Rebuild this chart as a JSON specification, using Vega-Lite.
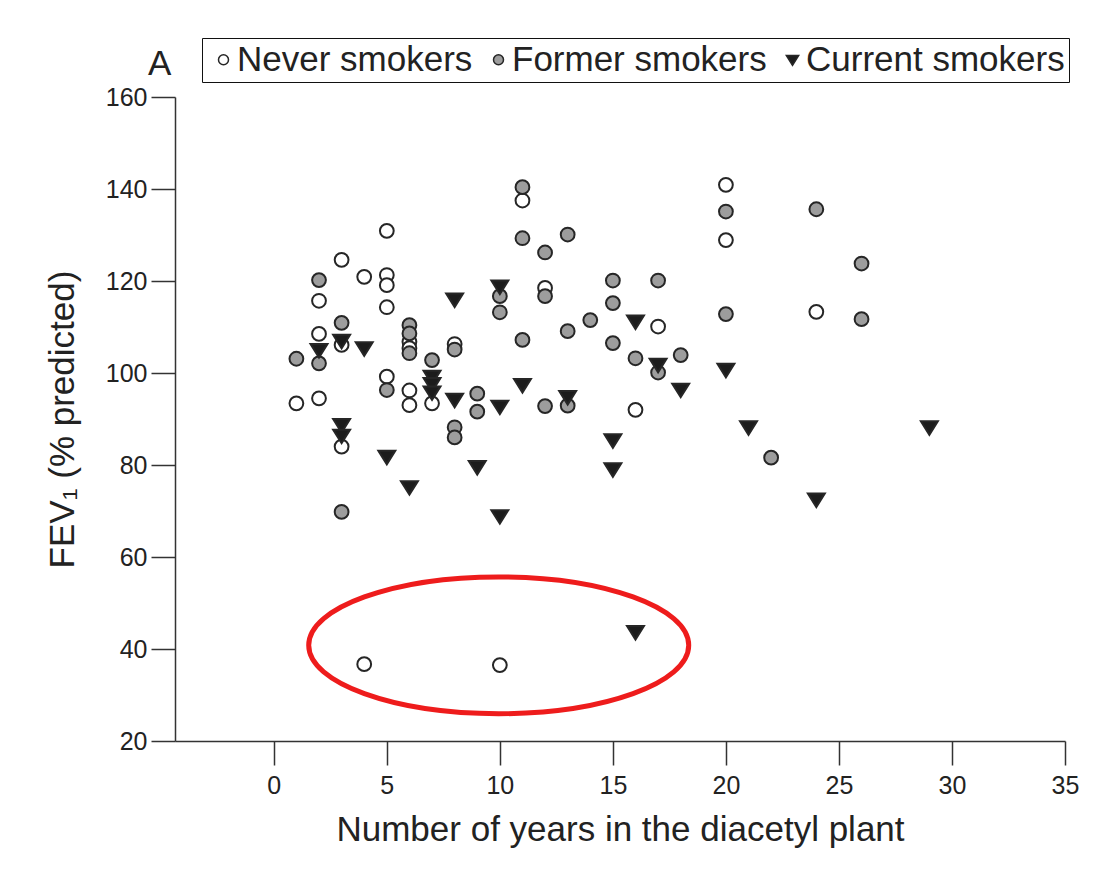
{
  "$schema": "https://vega.github.io/schema/vega-lite/v6.json",
  "width": 890,
  "height": 644,
  "autosize": {"type": "none"},
  "padding": {"left": 175, "top": 97, "right": 36, "bottom": 132},
  "background": "white",
  "config": {
    "view": {"stroke": null},
    "font": "Liberation Sans, Arial, Helvetica, sans-serif",
    "axis": {
      "grid": false,
      "domainColor": "#333333",
      "domainWidth": 1.5,
      "tickColor": "#333333",
      "tickWidth": 1.5,
      "tickSize": 24,
      "labelFontSize": 25,
      "labelColor": "#222222",
      "labelFlush": false,
      "labelOverlap": false,
      "titleFontSize": 35,
      "titleFontWeight": "normal",
      "titleColor": "#222222"
    }
  },
  "title": {
    "text": "A",
    "anchor": "start",
    "frame": "group",
    "fontSize": 35,
    "fontWeight": "normal",
    "color": "#222222",
    "dx": -27,
    "dy": 94,
    "offset": 22,
    "baseline": "alphabetic"
  },
  "datasets": {
    "points": [
      {"group": "Never smokers", "years": 1, "fev": 93.4},
      {"group": "Never smokers", "years": 2, "fev": 115.7},
      {"group": "Never smokers", "years": 2, "fev": 108.5},
      {"group": "Never smokers", "years": 2, "fev": 94.5},
      {"group": "Never smokers", "years": 3, "fev": 124.6},
      {"group": "Never smokers", "years": 3, "fev": 106.1},
      {"group": "Never smokers", "years": 3, "fev": 84.0},
      {"group": "Never smokers", "years": 4, "fev": 120.9},
      {"group": "Never smokers", "years": 4, "fev": 36.7},
      {"group": "Never smokers", "years": 5, "fev": 130.9},
      {"group": "Never smokers", "years": 5, "fev": 121.3},
      {"group": "Never smokers", "years": 5, "fev": 119.1},
      {"group": "Never smokers", "years": 5, "fev": 114.3},
      {"group": "Never smokers", "years": 5, "fev": 99.2},
      {"group": "Never smokers", "years": 6, "fev": 106.8},
      {"group": "Never smokers", "years": 6, "fev": 105.4},
      {"group": "Never smokers", "years": 6, "fev": 96.2},
      {"group": "Never smokers", "years": 6, "fev": 93.0},
      {"group": "Never smokers", "years": 7, "fev": 93.4},
      {"group": "Never smokers", "years": 8, "fev": 106.3},
      {"group": "Never smokers", "years": 10, "fev": 36.5},
      {"group": "Never smokers", "years": 11, "fev": 137.5},
      {"group": "Never smokers", "years": 12, "fev": 118.5},
      {"group": "Never smokers", "years": 16, "fev": 92.0},
      {"group": "Never smokers", "years": 17, "fev": 110.1},
      {"group": "Never smokers", "years": 20, "fev": 140.9},
      {"group": "Never smokers", "years": 20, "fev": 128.9},
      {"group": "Never smokers", "years": 24, "fev": 113.3},
      {"group": "Former smokers", "years": 1, "fev": 103.1},
      {"group": "Former smokers", "years": 2, "fev": 120.2},
      {"group": "Former smokers", "years": 2, "fev": 102.1},
      {"group": "Former smokers", "years": 3, "fev": 110.9},
      {"group": "Former smokers", "years": 3, "fev": 69.8},
      {"group": "Former smokers", "years": 5, "fev": 96.3},
      {"group": "Former smokers", "years": 6, "fev": 110.4},
      {"group": "Former smokers", "years": 6, "fev": 108.6},
      {"group": "Former smokers", "years": 6, "fev": 104.3},
      {"group": "Former smokers", "years": 7, "fev": 102.8},
      {"group": "Former smokers", "years": 8, "fev": 105.1},
      {"group": "Former smokers", "years": 8, "fev": 88.2},
      {"group": "Former smokers", "years": 8, "fev": 86.0},
      {"group": "Former smokers", "years": 9, "fev": 95.5},
      {"group": "Former smokers", "years": 9, "fev": 91.6},
      {"group": "Former smokers", "years": 10, "fev": 116.7},
      {"group": "Former smokers", "years": 10, "fev": 113.2},
      {"group": "Former smokers", "years": 11, "fev": 140.4},
      {"group": "Former smokers", "years": 11, "fev": 129.3},
      {"group": "Former smokers", "years": 11, "fev": 107.2},
      {"group": "Former smokers", "years": 12, "fev": 126.2},
      {"group": "Former smokers", "years": 12, "fev": 116.7},
      {"group": "Former smokers", "years": 12, "fev": 92.8},
      {"group": "Former smokers", "years": 13, "fev": 130.1},
      {"group": "Former smokers", "years": 13, "fev": 109.1},
      {"group": "Former smokers", "years": 13, "fev": 92.9},
      {"group": "Former smokers", "years": 14, "fev": 111.5},
      {"group": "Former smokers", "years": 15, "fev": 120.1},
      {"group": "Former smokers", "years": 15, "fev": 115.2},
      {"group": "Former smokers", "years": 15, "fev": 106.5},
      {"group": "Former smokers", "years": 16, "fev": 103.2},
      {"group": "Former smokers", "years": 17, "fev": 120.1},
      {"group": "Former smokers", "years": 17, "fev": 100.1},
      {"group": "Former smokers", "years": 18, "fev": 103.9},
      {"group": "Former smokers", "years": 20, "fev": 135.1},
      {"group": "Former smokers", "years": 20, "fev": 112.8},
      {"group": "Former smokers", "years": 22, "fev": 81.6},
      {"group": "Former smokers", "years": 24, "fev": 135.6},
      {"group": "Former smokers", "years": 26, "fev": 123.8},
      {"group": "Former smokers", "years": 26, "fev": 111.7},
      {"group": "Current smokers", "years": 2, "fev": 105.0},
      {"group": "Current smokers", "years": 3, "fev": 107.0},
      {"group": "Current smokers", "years": 3, "fev": 88.7},
      {"group": "Current smokers", "years": 3, "fev": 86.4},
      {"group": "Current smokers", "years": 4, "fev": 105.4},
      {"group": "Current smokers", "years": 5, "fev": 81.8},
      {"group": "Current smokers", "years": 6, "fev": 75.2},
      {"group": "Current smokers", "years": 7, "fev": 99.2},
      {"group": "Current smokers", "years": 7, "fev": 97.6},
      {"group": "Current smokers", "years": 7, "fev": 95.8},
      {"group": "Current smokers", "years": 8, "fev": 116.0},
      {"group": "Current smokers", "years": 8, "fev": 94.2},
      {"group": "Current smokers", "years": 9, "fev": 79.6},
      {"group": "Current smokers", "years": 10, "fev": 118.8},
      {"group": "Current smokers", "years": 10, "fev": 92.7},
      {"group": "Current smokers", "years": 10, "fev": 68.9},
      {"group": "Current smokers", "years": 11, "fev": 97.4},
      {"group": "Current smokers", "years": 13, "fev": 94.8},
      {"group": "Current smokers", "years": 15, "fev": 85.4},
      {"group": "Current smokers", "years": 15, "fev": 79.1},
      {"group": "Current smokers", "years": 16, "fev": 111.2},
      {"group": "Current smokers", "years": 16, "fev": 43.7},
      {"group": "Current smokers", "years": 17, "fev": 101.8},
      {"group": "Current smokers", "years": 18, "fev": 96.4},
      {"group": "Current smokers", "years": 20, "fev": 100.7},
      {"group": "Current smokers", "years": 21, "fev": 88.2},
      {"group": "Current smokers", "years": 24, "fev": 72.5},
      {"group": "Current smokers", "years": 29, "fev": 88.2}
    ],
    "note": [
      {"years": 9.95, "fev": 40.8}
    ]
  },
  "layer": [
    {
      "data": {"name": "points"},
      "mark": {"type": "point", "filled": true, "opacity": 1, "stroke": "#262626", "strokeWidth": 2, "size": 190},
      "encoding": {
        "x": {
          "field": "years",
          "type": "quantitative",
          "scale": {"domain": [-4.37, 35], "nice": false, "zero": false},
          "axis": {
            "values": [0, 5, 10, 15, 20, 25, 30, 35],
            "labelPadding": 8,
            "title": "Number of years in the diacetyl plant",
            "titlePadding": 14
          }
        },
        "y": {
          "field": "fev",
          "type": "quantitative",
          "scale": {"domain": [20, 160], "nice": false, "zero": false},
          "axis": {
            "values": [20, 40, 60, 80, 100, 120, 140, 160],
            "labelPadding": 4,
            "title": "FEV₁ (% predicted)",
            "titlePadding": 25
          }
        },
        "shape": {
          "field": "group",
          "type": "nominal",
          "scale": {
            "domain": ["Never smokers", "Former smokers", "Current smokers"],
            "range": ["circle", "circle", "M-1.23,-0.86L1.23,-0.86L0,1.11Z"]
          },
          "legend": {
            "orient": "none",
            "legendX": 27,
            "legendY": -59,
            "direction": "horizontal",
            "title": null,
            "labelFontSize": 35,
            "labelLimit": 500,
            "labelColor": "#222222",
            "symbolSize": 100,
            "symbolStrokeWidth": 1.5,
            "labelOffset": -4,
            "columnPadding": 8,
            "padding": 4,
            "strokeColor": "#111111"
          }
        },
        "fill": {
          "field": "group",
          "type": "nominal",
          "scale": {
            "domain": ["Never smokers", "Former smokers", "Current smokers"],
            "range": ["#ffffff", "#9d9d9d", "#1c1c1c"]
          },
          "legend": {
            "orient": "none",
            "legendX": 27,
            "legendY": -59,
            "direction": "horizontal",
            "title": null,
            "labelFontSize": 35,
            "labelLimit": 500,
            "labelColor": "#222222",
            "symbolSize": 100,
            "symbolStrokeWidth": 1.5,
            "labelOffset": -4,
            "columnPadding": 8,
            "padding": 4,
            "strokeColor": "#111111"
          }
        }
      }
    },
    {
      "data": {"name": "note"},
      "mark": {
        "type": "point",
        "shape": "M-1,0A1,0.36 0 1,0 1,0A1,0.36 0 1,0 -1,0Z",
        "size": 144400,
        "filled": false,
        "fill": null,
        "stroke": "#ee1c1c",
        "strokeWidth": 5,
        "opacity": 1
      },
      "encoding": {
        "x": {"field": "years", "type": "quantitative"},
        "y": {"field": "fev", "type": "quantitative"}
      }
    }
  ]
}
